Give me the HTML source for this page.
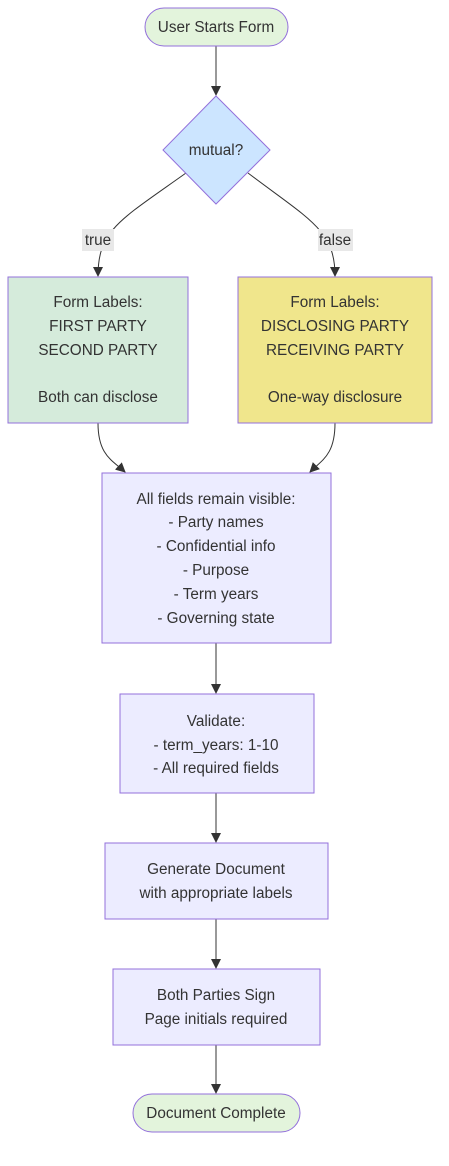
<!DOCTYPE html>
<html><head><meta charset="utf-8"><style>
html,body{margin:0;padding:0;background:#fff;}
svg text{font-family:"Liberation Sans",sans-serif;font-size:15.3px;fill:#333;text-anchor:middle;}
</style></head><body>
<svg width="449" height="1161" viewBox="0 0 449 1161" xmlns="http://www.w3.org/2000/svg">
<defs><marker id="a" markerWidth="10" markerHeight="10" refX="9" refY="5" orient="auto" markerUnits="userSpaceOnUse"><path d="M0,0 L10,5 L0,10 z" fill="#333"/></marker></defs>
<g fill="none" stroke="#333" stroke-width="1">
<path d="M216,46 L216,95" marker-end="url(#a)"/>
<path d="M186,173 C120,220 98,230 98,276" marker-end="url(#a)"/>
<path d="M248,173 C310,220 335,230 335,276" marker-end="url(#a)"/>
<path d="M98,423 C98,455 112,460 125,472" marker-end="url(#a)"/>
<path d="M335,423 C335,455 322,460 310,472" marker-end="url(#a)"/>
<path d="M216,643 L216,693" marker-end="url(#a)"/>
<path d="M216,793 L216,842" marker-end="url(#a)"/>
<path d="M216,919 L216,968" marker-end="url(#a)"/>
<path d="M216,1045 L216,1093" marker-end="url(#a)"/>
</g>
<g stroke="#9370DB" stroke-width="1">
<rect x="145" y="8" width="143" height="38" rx="19" fill="#e3f4dc"/>
<polygon points="216,96 270,150 216,204 163,150" fill="#cce5ff"/>
<rect x="8" y="277" width="180" height="146" fill="#d5ebdb"/>
<rect x="238" y="277" width="194" height="146" fill="#f0e68c"/>
<rect x="102" y="473" width="229" height="170" fill="#ececff"/>
<rect x="120" y="694" width="194" height="99" fill="#ececff"/>
<rect x="105" y="843" width="223" height="76" fill="#ececff"/>
<rect x="113" y="969" width="207" height="76" fill="#ececff"/>
<rect x="133" y="1094" width="167" height="38" rx="19" fill="#e3f4dc"/>
</g>
<rect x="82" y="229" width="32" height="22" fill="#e8e8e8"/>
<rect x="318" y="229" width="35" height="22" fill="#e8e8e8"/>
<text x="216" y="32">User Starts Form</text>
<text x="216" y="155">mutual?</text>
<text x="98" y="245">true</text>
<text x="335" y="245">false</text>
<text x="98" y="307">Form Labels:</text>
<text x="98" y="331">FIRST PARTY</text>
<text x="98" y="355">SECOND PARTY</text>
<text x="98" y="402">Both can disclose</text>
<text x="335" y="307">Form Labels:</text>
<text x="335" y="331">DISCLOSING PARTY</text>
<text x="335" y="355">RECEIVING PARTY</text>
<text x="335" y="402">One-way disclosure</text>
<text x="216" y="504">All fields remain visible:</text>
<text x="216" y="527">- Party names</text>
<text x="216" y="551">- Confidential info</text>
<text x="216" y="575">- Purpose</text>
<text x="216" y="599">- Term years</text>
<text x="216" y="623">- Governing state</text>
<text x="216" y="726">Validate:</text>
<text x="216" y="750">- term_years: 1-10</text>
<text x="216" y="773">- All required fields</text>
<text x="216" y="874">Generate Document</text>
<text x="216" y="898">with appropriate labels</text>
<text x="216" y="1000">Both Parties Sign</text>
<text x="216" y="1024">Page initials required</text>
<text x="216" y="1118">Document Complete</text>
</svg>
</body></html>
